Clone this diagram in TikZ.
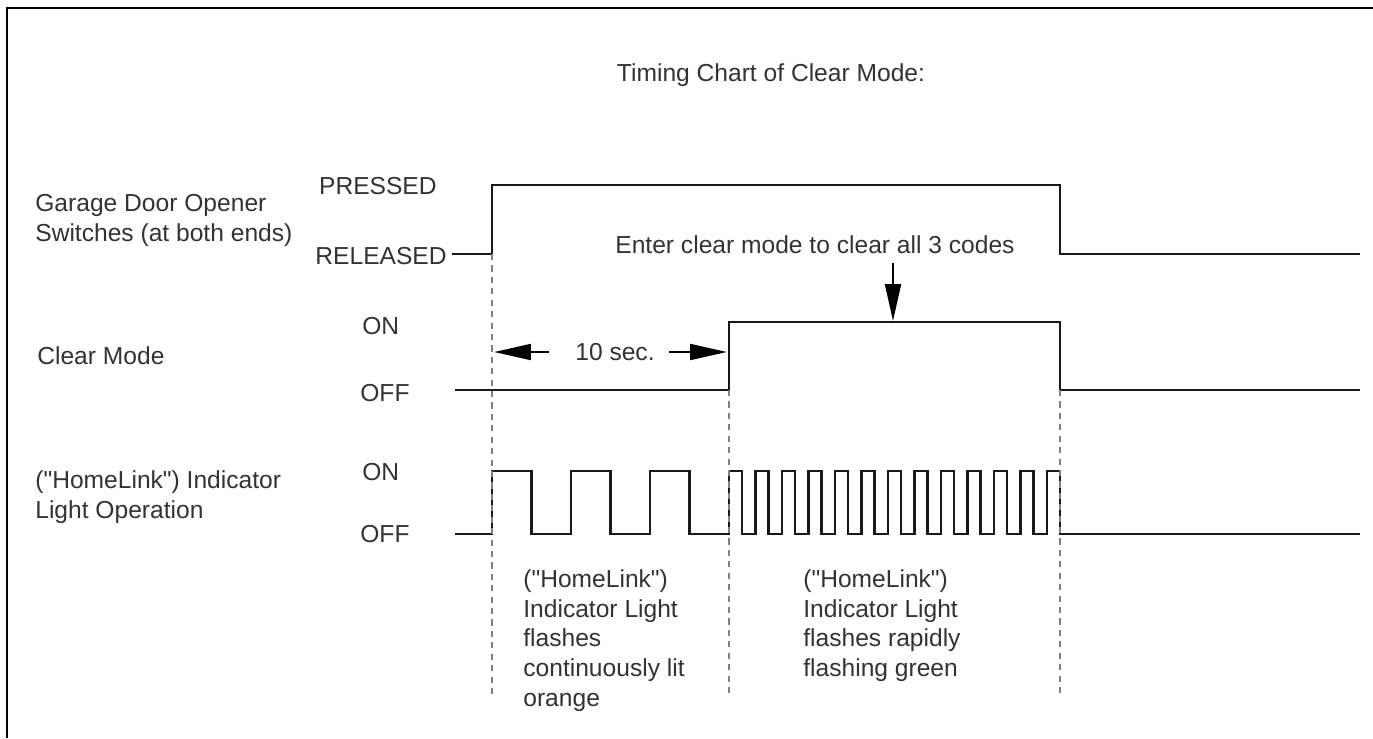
\documentclass[tikz,border=0pt]{standalone}
\usepackage{fontspec}
\newfontfamily\chartfont{Liberation Sans}
\usetikzlibrary{arrows.meta}

\begin{document}
\begin{tikzpicture}[
x=0.02cm, y=-0.02cm,
font=\chartfont\fontsize{14}{17}\selectfont,
mywave/.style={
  line width=1.4pt,
  black!90},
mydash/.style={
  gray,
  line width=0.6pt,
  dash pattern=on 3.5pt off 3pt},
mylevel/.style={
  inner sep=0pt,
  text height=10pt,
  text depth=0pt,
  text=black!80},
mytext/.style={
  inner sep=0pt,
  align=left,
  anchor=north west,
  text=black!80},
myarrow/.style={
  line width=1.4pt,
  -{Triangle[length=21pt,width=9pt]}}
]
\useasboundingbox (0,0) rectangle (1373,738);
\draw[line width=1.7pt] (7,738) -- (7,8) -- (1373,8);

\node[mylevel] (Title) at (771,73) {Timing Chart of Clear Mode:};

\node[mytext] (LblGarage) at (35,194) {Garage Door Opener\\Switches (at both ends)};
\node[mylevel,anchor=west] (LblClear) at (37,356) {Clear Mode};
\node[mytext] (LblHome) at (35,470) {("HomeLink") Indicator\\Light Operation};

\node[mylevel,anchor=east] (Press) at (437,186) {PRESSED};
\node[mylevel,anchor=east] (Rel) at (447,256) {RELEASED};
\node[mylevel,anchor=west] (OnA) at (362,326) {ON};
\node[mylevel,anchor=west] (OffA) at (360,393) {OFF};
\node[mylevel,anchor=west] (OnB) at (362,472) {ON};
\node[mylevel,anchor=west] (OffB) at (360,534) {OFF};

\draw[mywave]
  (452,254) -- (492,254) coordinate (SwOn) --
  (492,185) -- (1060,185) --
  (1060,254) -- (1360,254);
\draw[mywave]
  (455,390) -- (729,390) coordinate (CmOn) --
  (729,322) -- (1060,322) --
  (1060,390) coordinate (CmOff) -- (1360,390);
\draw[mywave]
  (455,534) -- (492,534)
  \foreach \i in {1,2,3} {
    -- ++(0,-63) -- ++(39.5,0) -- ++(0,63) -- ++(39.5,0)}
  \foreach \i in {1,...,12} {
    -- ++(0,-63) -- ++(13,0) -- ++(0,63) -- ++(13.5,0)}
  -- ++(0,-63) -- ++(13,0) -- ++(0,63) -- (1360,534);

\foreach \Start in {SwOn,CmOn,CmOff}
  \draw[mydash] (\Start) -- (\Start |- 0,697);

\node[mylevel] (Ten) at (615,352) {10 sec.};
\coordinate (TenL) at (494,352);
\coordinate (TenR) at (727,352);
\draw[myarrow,shorten <=15pt] (Ten.west) -- (TenL);
\draw[myarrow,shorten <=8pt] (Ten.east) -- (TenR);

\node[mylevel] (Enter) at (815,245) {Enter clear mode to clear all 3 codes};
\coordinate (Hit) at (893,321);
\draw[myarrow,shorten <=5pt] (Enter.south -| Hit) -- (Hit);

\node[mytext] (NoteSlow) at (523,569)
  {("HomeLink")\\Indicator Light\\flashes\\continuously lit\\orange};
\node[mytext] (NoteFast) at (803,569)
  {("HomeLink")\\Indicator Light\\flashes rapidly\\flashing green};
\end{tikzpicture}
\end{document}
